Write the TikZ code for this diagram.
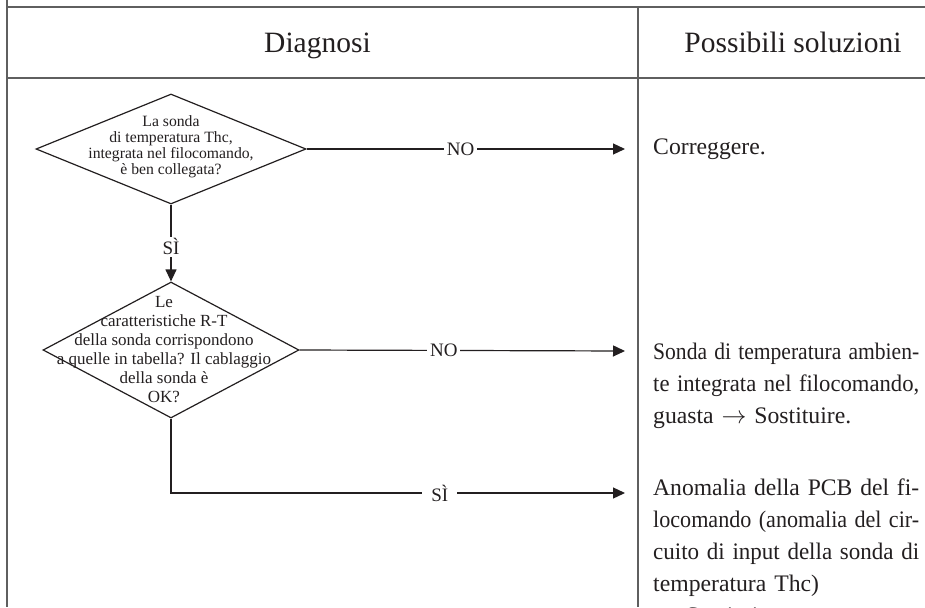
\documentclass[tikz,border=0pt]{standalone}
\usepackage{graphicx}
\usepackage{fontspec}
\setmainfont{Liberation Serif}
\usetikzlibrary{shapes.geometric,arrows.meta}
\definecolor{ink}{RGB}{35,31,32}
\definecolor{rulegray}{RGB}{95,95,95}
\newlength{\solw}\setlength{\solw}{266pt}
\newlength{\jlen}
\newsavebox{\jbox}
% one justified line of a solution text: stretched, or squeezed when too long
\newcommand{\jstline}[1]{\sbox{\jbox}{#1}\setlength{\jlen}{\wd\jbox}%
  \ifdim\jlen>\solw
    \pgfmathsetmacro{\jratio}{\solw/\jlen}%
    \scalebox{\jratio}[1]{\usebox{\jbox}}%
  \else\makebox[\solw][s]{#1}\fi}

\begin{document}
\begin{tikzpicture}[x=1pt,y=-1pt,
  tablerule/.style={draw=rulegray,line width=1.6pt},
  decision/.style={diamond,draw=ink,line width=1.2pt,inner sep=0pt},
  question/.style={align=center,text=ink,inner sep=0pt},
  flow/.style={draw=ink,line width=1.2pt,-{Triangle[length=12pt,width=11pt]}},
  answer/.style={fill=white,text=ink,inner sep=3pt,font=\fontsize{19}{19}\selectfont},
  heading/.style={text=ink,anchor=base,inner sep=0pt,font=\fontsize{29.5}{30}\selectfont},
  solution/.style={anchor=base west,inner sep=0pt,text width=280pt,align=left,text=ink,font=\fontsize{23.7}{32}\selectfont}
]
\useasboundingbox (0,0) rectangle (925,607);
\clip (0,0) rectangle (925,607);
\fill[white] (0,0) rectangle (925,607);

% table frame
\draw[tablerule] (7,0) -- (7,607);
\draw[tablerule] (7,7) -- (925,7);
\draw[tablerule] (7,78) -- (925,78);
\draw[tablerule] (638,7) -- (638,607);

% column headings
\node[heading] (hdiag) at (317.5,53) {Diagnosi};
\node[heading] (hsol) at (793,53) {Possibili soluzioni};

% decisions
\node[decision,minimum width=270pt,minimum height=110pt] (d1) at (171,149) {};
\node[question,font=\fontsize{15.7}{16}\selectfont] (q1) at (171,147)
  {La sonda\\di temperatura Thc,\\integrata nel filocomando,\\è ben collegata?};

\node[decision,minimum width=256pt,minimum height=136pt] (d2) at (171,350) {};
\node[question,font=\fontsize{17}{19}\selectfont] (q2) at (164,350)
  {Le\\caratteristiche R-T\\della sonda corrispondono\\a quelle in tabella? Il cablaggio\hspace*{24pt}\\della sonda è\\OK?};

% arrow ends in front of the solutions column
\coordinate (e1) at (625,149);
\coordinate (e2) at (625,351);
\coordinate (e3) at (625,493);

% connectors
\draw[flow] (d1.east) -- node[answer,pos=0.484] (no1) {NO} (e1);
\draw[flow] (d1.south) -- node[answer,pos=0.55,inner sep=2pt] (si1) {SÌ} (d2.north);
\draw[flow] (d2.east) -- node[answer,pos=0.443] (no2) {NO} (e2);
\draw[flow] (d2.south) |- node[answer,pos=0.796,inner xsep=9pt] (si2) {SÌ} (e3);

% solutions
\node[solution] (s1) at (653,154) {Correggere.};
\node[solution] (s2) at (653,359)
  {\jstline{Sonda di temperatura ambien-}\\\jstline{te integrata nel filocomando,}\\guasta $\rightarrow$ Sostituire.};
\node[solution] (s3) at (653,495)
  {\jstline{Anomalia della PCB del fi-}\\\jstline{locomando (anomalia del cir-}\\\jstline{cuito di input della sonda di}\\temperatura Thc)\\$\rightarrow$ Sostituire.};
\end{tikzpicture}
\end{document}
